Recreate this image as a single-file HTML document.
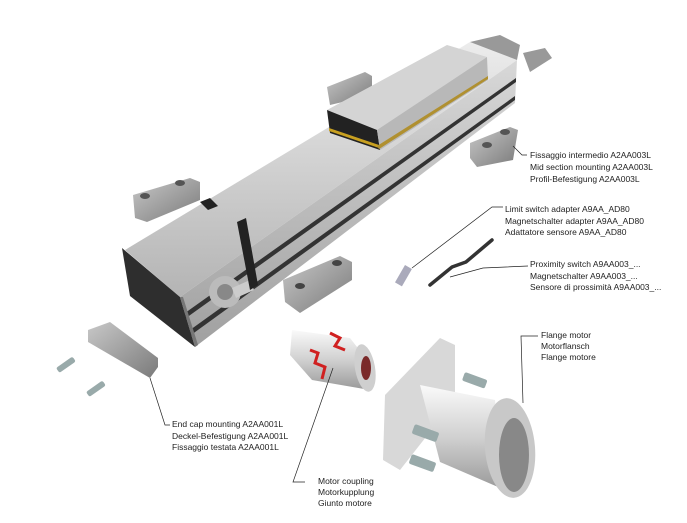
<!DOCTYPE html>
<html><head><style>
body{margin:0;background:#fff;width:687px;height:518px;overflow:hidden}
svg text{font-family:"Liberation Sans",sans-serif;font-size:8.5px;fill:#222}
</style></head><body>
<svg width="687" height="518" viewBox="0 0 687 518">
<defs>
<linearGradient id="g1" x1="0" y1="0" x2="0" y2="1"><stop offset="0" stop-color="#ececec"/><stop offset="1" stop-color="#b4b4b4"/></linearGradient>
<linearGradient id="g2" x1="0" y1="0" x2="1" y2="1"><stop offset="0" stop-color="#c8c8c8"/><stop offset="1" stop-color="#7a7a7a"/></linearGradient>
<linearGradient id="g3" x1="0" y1="0" x2="0" y2="1"><stop offset="0" stop-color="#fafafa"/><stop offset="0.5" stop-color="#d0d0d0"/><stop offset="1" stop-color="#999"/></linearGradient>
<linearGradient id="g4" x1="0" y1="0" x2="0" y2="1"><stop offset="0" stop-color="#d8d8d8"/><stop offset="1" stop-color="#a0a0a0"/></linearGradient>
</defs>
<!-- block behind beam (left) -->
<polygon points="133,195 190,178 200,182 200,200 147,222 135,218" fill="url(#g2)"/>
<ellipse cx="145" cy="196" rx="5" ry="3" fill="#555"/><ellipse cx="180" cy="183" rx="5" ry="3" fill="#555"/>
<!-- block behind carriage -->
<polygon points="327,87 365,72 372,76 372,95 330,105" fill="url(#g2)"/>
<!-- main beam -->
<polygon points="125,250 470,42 517,60 180,297" fill="url(#g1)"/>
<polygon points="180,297 517,60 515,103 195,347" fill="url(#g4)"/>
<polygon points="185,313 516,78 516,82 186,318" fill="#333"/>
<polygon points="190,330 515,96 515,100 191,335" fill="#333"/>
<!-- end cap -->
<polygon points="122,248 180,297 195,347 130,296" fill="#2e2e2e"/>
<polygon points="180,297 195,347 198,345 183,297" fill="#777"/>
<circle cx="225" cy="292" r="16" fill="#bbb"/><circle cx="225" cy="292" r="8" fill="#888"/>
<polygon points="232,288 250,280 254,290 236,298" fill="#ccc"/>
<!-- bands -->
<polygon points="200,202 210,198 218,206 208,210" fill="#222"/>
<polygon points="237,222 246,218 258,285 250,290" fill="#222"/>
<!-- carriage -->
<polygon points="327,110 447,45 487,57 377,130" fill="#d4d4d4"/>
<polygon points="327,110 377,130 380,150 330,133" fill="#222"/>
<polygon points="329,128 379,145 379,148 329,131" fill="#c8a020"/>
<polygon points="377,130 487,57 488,80 380,150" fill="#b8b8b8"/>
<polygon points="377,146 488,76 488,79 379,149" fill="#b09030"/>
<!-- right end -->
<polygon points="470,42 500,35 520,45 517,60" fill="#999"/>
<polygon points="523,53 545,48 552,58 530,72" fill="#999"/>
<!-- right block -->
<polygon points="470,143 510,127 518,130 513,160 477,167 470,158" fill="url(#g2)"/>
<ellipse cx="487" cy="145" rx="5" ry="3" fill="#555"/><ellipse cx="505" cy="132" rx="5" ry="3" fill="#555"/>
<!-- mid block -->
<polygon points="283,280 340,256 352,262 352,280 300,313 285,302" fill="url(#g2)"/>
<ellipse cx="300" cy="286" rx="5" ry="3" fill="#444"/><ellipse cx="337" cy="263" rx="5" ry="3" fill="#444"/>
<!-- end cap block -->
<polygon points="88,330 110,322 158,358 158,367 150,378 88,342" fill="url(#g2)"/>
<!-- screws -->
<rect x="56" y="368" width="20" height="6" rx="2" fill="#9aa" transform="rotate(-35 56 368)"/>
<rect x="86" y="392" width="20" height="6" rx="2" fill="#9aa" transform="rotate(-35 86 392)"/>
<!-- sensors -->
<rect x="405" y="265" width="8" height="20" fill="#aab" transform="rotate(30 405 265)"/>
<path d="M430,285 L452,267 L466,262 L492,240" stroke="#333" stroke-width="3.5" fill="none" stroke-linecap="round"/>
<!-- coupling -->
<polygon points="292,330 350,338 375,370 370,390 312,380 290,355" fill="url(#g3)"/>
<ellipse cx="365" cy="368" rx="10" ry="24" fill="#cfcfcf" transform="rotate(-10 365 368)"/>
<ellipse cx="366" cy="368" rx="5" ry="12" fill="#7a2a2a"/>
<path d="M330,333 l10,5 l-5,8 l10,4 M310,350 l8,3 l-3,10 l10,4 l-3,12" stroke="#d02020" stroke-width="3" fill="none"/>
<!-- flange -->
<polygon points="385,395 440,338 455,345 455,400 400,470 383,460" fill="#d8d8d8"/>
<polygon points="420,385 495,400 505,490 440,462" fill="url(#g3)"/>
<ellipse cx="510" cy="448" rx="25" ry="50" fill="#c8c8c8" transform="rotate(-5 510 448)"/>
<ellipse cx="514" cy="455" rx="15" ry="37" fill="#888"/>
<rect x="465" y="372" width="24" height="9" rx="2" fill="#9aa" transform="rotate(20 465 372)"/>
<rect x="415" y="424" width="26" height="10" rx="2" fill="#9aa" transform="rotate(20 415 424)"/>
<rect x="412" y="454" width="26" height="10" rx="2" fill="#9aa" transform="rotate(20 412 454)"/>
<!-- leaders -->
<g stroke="#222" stroke-width="0.7" fill="none">
<polyline points="513,146 522,155 527,155"/>
<polyline points="412,268 492,207 503,207"/>
<polyline points="450,277 483,268 528,266"/>
<polyline points="538,336 521,336 523,403"/>
<polyline points="150,378 165,425 170,425"/>
<polyline points="333,368 293,482 305,482"/>
</g>
<text x="530" y="158">Fissaggio intermedio A2AA003L</text>
<text x="530" y="170">Mid section mounting A2AA003L</text>
<text x="530" y="182">Profil-Befestigung A2AA003L</text>
<text x="505" y="212">Limit switch adapter A9AA_AD80</text>
<text x="505" y="224">Magnetschalter adapter A9AA_AD80</text>
<text x="505" y="235">Adattatore sensore A9AA_AD80</text>
<text x="530" y="267">Proximity switch A9AA003_...</text>
<text x="530" y="279">Magnetschalter A9AA003_...</text>
<text x="530" y="290">Sensore di prossimità A9AA003_...</text>
<text x="541" y="338">Flange motor</text>
<text x="541" y="349">Motorflansch</text>
<text x="541" y="360">Flange motore</text>
<text x="172" y="427">End cap mounting A2AA001L</text>
<text x="172" y="439">Deckel-Befestigung A2AA001L</text>
<text x="172" y="450">Fissaggio testata A2AA001L</text>
<text x="318" y="484">Motor coupling</text>
<text x="318" y="495">Motorkupplung</text>
<text x="318" y="506">Giunto motore</text>
</svg>
</body></html>
